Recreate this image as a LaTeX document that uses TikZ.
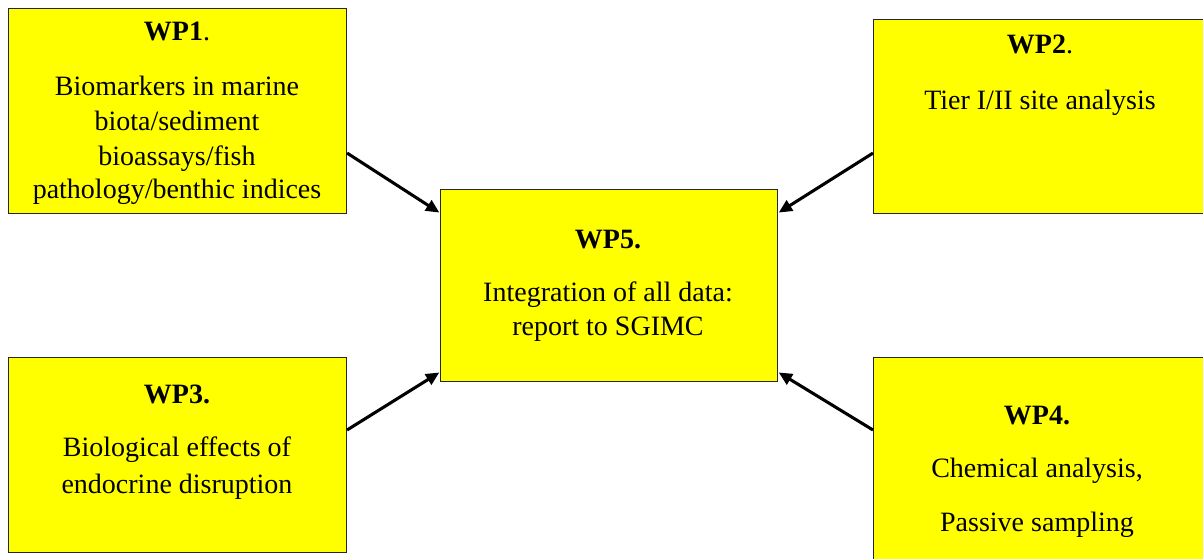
\documentclass[tikz,border=0pt]{standalone}
\usepackage{fontspec}
\setmainfont{Liberation Serif}
\usetikzlibrary{arrows.meta}
\definecolor{wpyellow}{RGB}{255,255,0}
\begin{document}
\begin{tikzpicture}[x=0.75pt,y=-0.75pt,
  wpbox/.style={draw=black!85, line width=0.8pt, fill=wpyellow, inner sep=0pt, anchor=north west},
  txt/.style={anchor=base, inner sep=0pt, font=\fontsize{21}{26}\selectfont},
  ttl/.style={txt, font=\fontsize{21}{26}\selectfont\bfseries},
  arr/.style={line width=2.3pt, -{Triangle[length=10pt,width=9pt]}, shorten >=0.6pt}]
\useasboundingbox (0,0) rectangle (1203,559);
\fill[white] (0,0) rectangle (1203,559);

% work package boxes
\node[wpbox, minimum width=338*0.75pt, minimum height=205*0.75pt] (wp1) at (8,8) {};
\node[wpbox, minimum width=335*0.75pt, minimum height=194*0.75pt] (wp2) at (873,19) {};
\node[wpbox, minimum width=337*0.75pt, minimum height=192*0.75pt] (wp5) at (440,189) {};
\node[wpbox, minimum width=338*0.75pt, minimum height=195*0.75pt] (wp3) at (8,357) {};
\node[wpbox, minimum width=335*0.75pt, minimum height=210*0.75pt] (wp4) at (873,357) {};

% WP1
\node[txt] (t1a) at (177,41) {\textbf{WP1}.};
\node[txt] (t1b) at (177,96) {Biomarkers in marine};
\node[txt] (t1c) at (177,131) {biota/sediment};
\node[txt] (t1d) at (177,166) {bioassays/fish};
\node[txt] (t1e) at (177,199) {pathology/benthic indices};

% WP2
\node[txt] (t2a) at (1040,54) {\textbf{WP2}.};
\node[txt] (t2b) at (1040,110) {Tier I/II site analysis};

% WP5
\node[ttl] (t5a) at (608,249) {WP5.};
\node[txt] (t5b) at (608,302) {Integration of all data:};
\node[txt] (t5c) at (608,336) {report to SGIMC};

% WP3
\node[ttl] (t3a) at (177,404) {WP3.};
\node[txt] (t3b) at (177,456) {Biological effects of};
\node[txt] (t3c) at (177,493) {endocrine disruption};

% WP4
\node[ttl] (t4a) at (1037,425) {WP4.};
\node[txt] (t4b) at (1037,477) {Chemical analysis,};
\node[txt] (t4c) at (1037,531) {Passive sampling};

% connectors into WP5
\coordinate (s1) at ([yshift=61*0.75pt]wp1.south east);
\coordinate (e1) at ([yshift=-24*0.75pt]wp5.north west);
\draw[arr] (s1) -- (e1);

\coordinate (s2) at ([yshift=61*0.75pt]wp2.south west);
\coordinate (e2) at ([yshift=-24*0.75pt]wp5.north east);
\draw[arr] (s2) -- (e2);

\coordinate (s3) at ([yshift=-73*0.75pt]wp3.north east);
\coordinate (e3) at ([yshift=10*0.75pt]wp5.south west);
\draw[arr] (s3) -- (e3);

\coordinate (s4) at ([yshift=-73*0.75pt]wp4.north west);
\coordinate (e4) at ([yshift=10*0.75pt]wp5.south east);
\draw[arr] (s4) -- (e4);
\end{tikzpicture}
\end{document}
